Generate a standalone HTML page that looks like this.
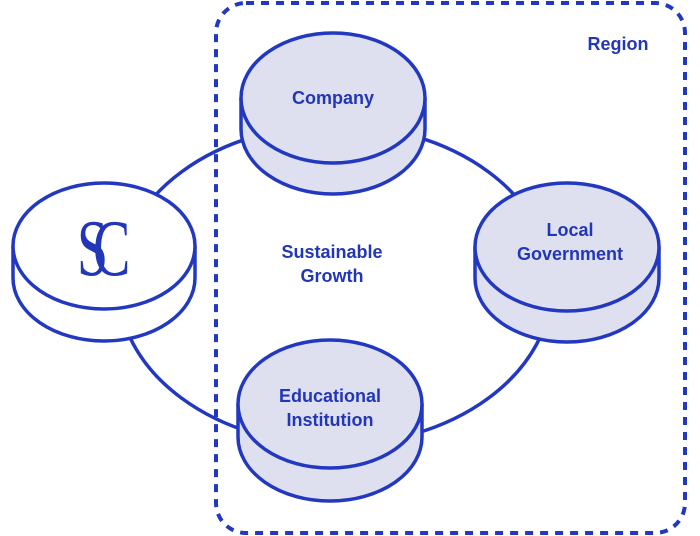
<!DOCTYPE html>
<html><head><style>body{margin:0;background:#fff}svg{display:block}</style></head>
<body>
<svg width="700" height="536" viewBox="0 0 700 536" xmlns="http://www.w3.org/2000/svg" font-family="Liberation Sans, sans-serif" font-weight="bold" fill="#2236b8">
<rect x="216" y="3" width="469" height="530" rx="30" fill="none" stroke="#2238c0" stroke-width="4" stroke-dasharray="8 7"/>
<ellipse cx="335" cy="285" rx="217" ry="160" fill="none" stroke="#2238c0" stroke-width="3.5"/>
<g stroke="#2238c0" stroke-width="3.5">
<path d="M13 246 v32 a91 63 0 0 0 182 0 v-32" fill="#fff"/>
<ellipse cx="104" cy="246" rx="91" ry="63" fill="#fff"/>
<path d="M241 98 v31 a92 65 0 0 0 184 0 v-31" fill="#dfe0ef"/>
<ellipse cx="333" cy="98" rx="92" ry="65" fill="#dfe0ef"/>
<path d="M475 247 v31 a92 64 0 0 0 184 0 v-31" fill="#dfe0ef"/>
<ellipse cx="567" cy="247" rx="92" ry="64" fill="#dfe0ef"/>
<path d="M238 404 v33 a92 64 0 0 0 184 0 v-33" fill="#dfe0ef"/>
<ellipse cx="330" cy="404" rx="92" ry="64" fill="#dfe0ef"/>
</g>
<g font-family="Liberation Serif, serif" font-weight="normal" font-size="80">
<text transform="translate(77,275) scale(0.7,1)">S</text>
<text transform="translate(93,275) scale(0.7,1)">C</text>
</g>
<g font-size="18" text-anchor="middle">
<text x="333" y="104">Company</text>
<text x="570" y="236">Local</text>
<text x="570" y="260">Government</text>
<text x="330" y="402">Educational</text>
<text x="330" y="426">Institution</text>
<text x="332" y="258">Sustainable</text>
<text x="332" y="282">Growth</text>
<text x="618" y="50">Region</text>
</g>
</svg>
</body></html>
